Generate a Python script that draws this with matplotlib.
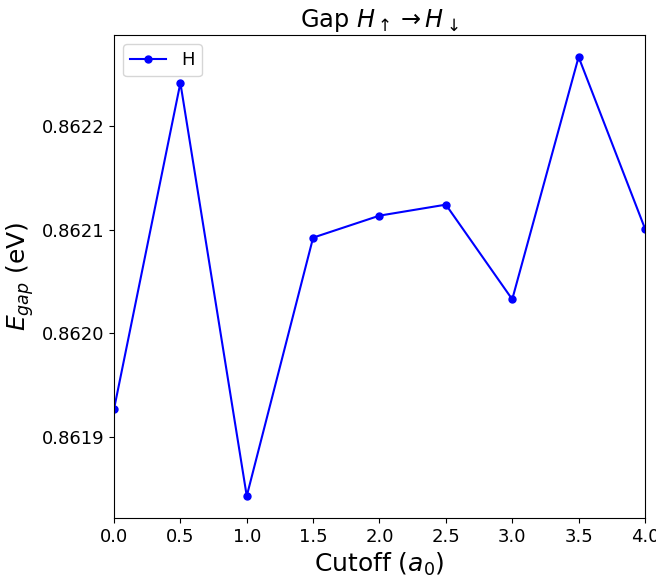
import matplotlib
matplotlib.use("Agg")
import matplotlib.pyplot as plt

cutoff = [0.0, 0.5, 1.0, 1.5, 2.0, 2.5, 3.0, 3.5, 4.0]
gap_H = [0.861927, 0.8622415, 0.8618431, 0.8620923, 0.8621135, 0.8621241, 0.8620328, 0.8622665, 0.862101]

fig = plt.figure(figsize=(6.56, 5.75), dpi=100)
ax = fig.add_axes([0.1738, 0.0991, 0.8094, 0.8400])
ax.plot(cutoff, gap_H, marker='o', color='blue', markersize=5, linewidth=1.5, label='H')
ax.set_xlim(0, 4)
ax.set_title(r'Gap $H_\uparrow \to H_\downarrow$', fontsize=17.3)
ax.set_xlabel(r'Cutoff ($a_0$)', fontsize=18)
ax.set_ylabel(r'$E_{gap}$ (eV)', fontsize=18)
ax.tick_params(labelsize=13)
ax.ticklabel_format(axis='y', useOffset=False)
ax.legend(loc='upper left', fontsize=13)
fig.savefig('out.png', dpi=100)
